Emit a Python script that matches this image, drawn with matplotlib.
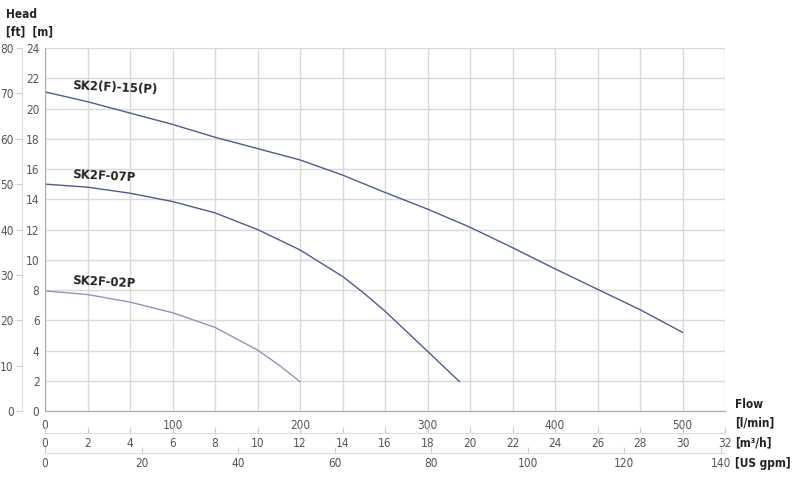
import matplotlib
matplotlib.use("Agg")
import matplotlib.pyplot as plt

plt.rcParams['font.family'] = ['DejaVu Sans']
plt.rcParams['font.stretch'] = 'condensed'

# pump curves, flow in m3/h, head in m
q_15 = [0, 2, 4, 6, 8, 10, 12, 14, 16, 18, 20, 22, 24, 26, 28, 30]
h_15 = [21.1, 20.45, 19.7, 18.95, 18.1, 17.35, 16.6, 15.6, 14.45, 13.35, 12.15, 10.8, 9.4, 8.05, 6.7, 5.2]

q_07 = [0, 2, 4, 6, 8, 10, 12, 14, 15, 16, 18, 19.5]
h_07 = [15.0, 14.8, 14.4, 13.85, 13.1, 12.0, 10.65, 8.9, 7.8, 6.6, 3.95, 1.95]

q_02 = [0, 2, 4, 6, 8, 10, 11, 12]
h_02 = [7.94, 7.7, 7.2, 6.5, 5.53, 4.03, 3.05, 1.94]

labels = ["SK2(F)-15(P)", "SK2F-07P", "SK2F-02P"]
label_pos = [(1.25, 21.4), (1.25, 15.5), (1.25, 8.5)]

lmin_ticks = [0, 100, 200, 300, 400, 500]
m3h_ticks = list(range(0, 33, 2))
gpm_ticks = [0, 20, 40, 60, 80, 100, 120, 140]
m_ticks = list(range(0, 25, 2))
ft_ticks = list(range(0, 81, 10))

tick_col = "#555555"
grid_col = "#d9d9d9"

fig = plt.figure(figsize=(8, 4.8), dpi=100)
ax = fig.add_axes([45 / 800, 69 / 480, 680 / 800, 363 / 480])

ax.plot(q_15, h_15, color="#4d5d8c", lw=1.0)
ax.plot(q_07, h_07, color="#4d5d8c", lw=1.0)
ax.plot(q_02, h_02, color="#8a97b8", lw=1.0)

for lab, (x, y) in zip(labels, label_pos):
    ax.text(x, y, lab, fontsize=8.5, fontweight="bold", color="#222222",
            fontstretch="normal", rotation=-3, va="center", ha="left")

ax.set_xlim(0, 32)
ax.set_ylim(0, 24)
ax.set_xticks(m3h_ticks)
ax.set_yticks(m_ticks)
ax.grid(True, color=grid_col, lw=1.0)
ax.tick_params(axis="x", length=0, labelbottom=False)
ax.tick_params(axis="y", length=0, labelsize=8.5, labelcolor=tick_col, pad=4)
for s in ["top", "right"]:
    ax.spines[s].set_visible(False)
for s in ["left", "bottom"]:
    ax.spines[s].set_color("#aaaaaa")

# l/min axis
lm = ax.secondary_xaxis("bottom", functions=(lambda q: q * 1000 / 60, lambda l: l * 60 / 1000))
lm.set_xticks(lmin_ticks)
lm.tick_params(length=0, labelsize=8.5, labelcolor=tick_col, pad=6)
lm.spines["bottom"].set_visible(False)

# m3/h axis
mh = ax.secondary_xaxis(-22 / 363)
mh.set_xticks(m3h_ticks)
mh.tick_params(direction="in", length=4, color="#cccccc", labelsize=8.5, labelcolor=tick_col, pad=3)
mh.spines["bottom"].set_color("#dddddd")

# US gpm axis
gp = ax.secondary_xaxis(-42 / 363, functions=(lambda q: q * 4.4029, lambda g: g / 4.4029))
gp.set_xticks(gpm_ticks)
gp.tick_params(direction="in", length=4, color="#cccccc", labelsize=8.5, labelcolor=tick_col, pad=3)
gp.spines["bottom"].set_color("#dddddd")

# ft axis (chart scales 80 ft to the 24 m line)
ft = ax.secondary_yaxis(-23 / 680, functions=(lambda m: m * 10 / 3, lambda f: f * 3 / 10))
ft.set_yticks(ft_ticks)
ft.tick_params(length=4, color="#cccccc", labelsize=8.5, labelcolor=tick_col, pad=2)
ft.spines["left"].set_color("#dddddd")

bold = dict(fontsize=8.5, fontweight="bold", color="#222222")
fig.text(6 / 800, 1 - 15 / 480, "Head", va="center", ha="left", **bold)
fig.text(6 / 800, 1 - 32 / 480, "[ft]  [m]", va="center", ha="left", **bold)
fig.text(735 / 800, 1 - 405 / 480, "Flow", va="center", ha="left", **bold)
fig.text(735 / 800, 1 - 423 / 480, "[l/min]", va="center", ha="left", **bold)
fig.text(735 / 800, 1 - 443 / 480, "[m³/h]", va="center", ha="left", **bold)
fig.text(735 / 800, 1 - 463 / 480, "[US gpm]", va="center", ha="left", **bold)

fig.savefig("out.png", dpi=100)
plt.close(fig)
